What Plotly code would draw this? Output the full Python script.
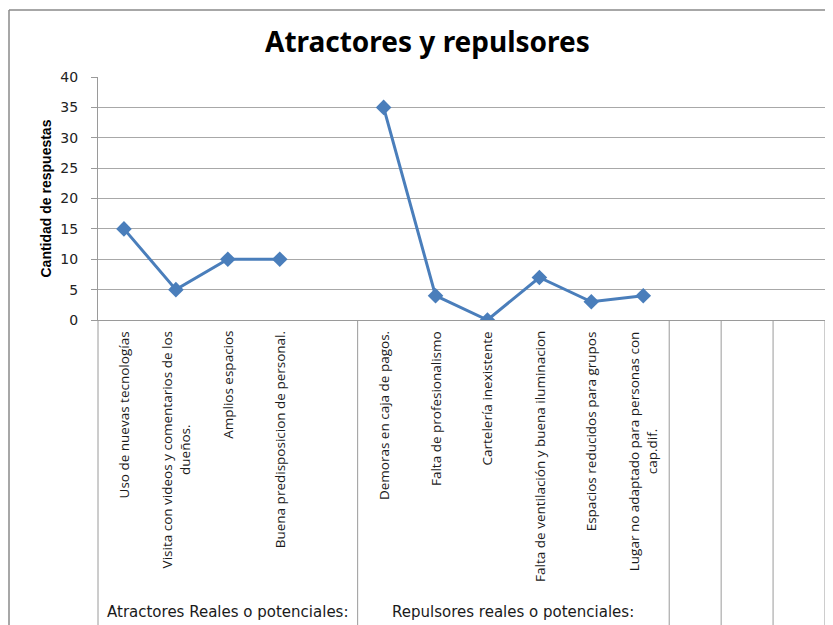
import plotly.graph_objects as go

categories = [
    "Uso de nuevas tecnologías",
    "Visita con videos y comentarios de los<br>dueños.",
    "Amplios espacios",
    "Buena predisposicion de personal.",
    "",
    "Demoras en caja de pagos.",
    "Falta de profesionalismo",
    "Cartelería inexistente",
    "Falta de ventilación y buena iluminacion",
    "Espacios reducidos para grupos",
    "Lugar no adaptado para personas con<br>cap.dif.",
    "",
    "",
    "",
]
values = [15, 5, 10, 10, None, 35, 4, 0, 7, 3, 4, None, None, None]
groups = ["Atractores Reales o potenciales:", "Repulsores reales o potenciales:", "", "", ""]
group_sizes = [5, 6, 1, 1, 1]
y_ticks = [0, 5, 10, 15, 20, 25, 30, 35, 40]

# page has an 8px body margin; work in page pixels and convert
OFF = 8
W, H = 825, 617
L, R, T, B = 98 - OFF, 8, 77 - OFF, H - (320 - OFF)
pw, ph = W - L - R, H - T - B
n = len(categories)

def px_x(px):
    return (px - OFF - L) / pw

def px_y(py):
    return (H - B - (py - OFF)) / ph

x_idx = list(range(n))
fig = go.Figure()
fig.add_trace(go.Scatter(
    x=x_idx, y=values, mode="lines+markers",
    line=dict(color="#4A7EBB", width=3),
    marker=dict(symbol="diamond", size=12, color="#4A7EBB"),
    connectgaps=False, showlegend=False, hoverinfo="skip",
))

annotations = []
for i, c in enumerate(categories):
    if not c:
        continue
    annotations.append(dict(
        x=i, xref="x", y=px_y(329), yref="paper", text=c, showarrow=False,
        textangle=-90, xanchor="center", yanchor="top", align="center",
        font=dict(family="Open Sans, Noto Sans, sans-serif", size=13.5, color="#1a1a1a"),
    ))

shapes = []
start = 0
bounds = [0]
for g, s in zip(groups, group_sizes):
    if g:
        annotations.append(dict(
            x=start + (s - 1) / 2, xref="x", y=px_y(612), yref="paper", text=g,
            showarrow=False, xanchor="center", yanchor="middle",
            font=dict(family="DejaVu Sans, Verdana, sans-serif", size=15, color="#1a1a1a"),
        ))
    start += s
    bounds.append(start)

for b in bounds:
    xp = b / n
    shapes.append(dict(type="line", xref="paper", yref="paper", x0=xp, x1=xp,
                       y0=0, y1=px_y(625), line=dict(color="#9a9a9a", width=1)))

# outer chart frame
shapes.append(dict(type="line", xref="paper", yref="paper", x0=px_x(9), x1=px_x(9),
                   y0=px_y(10), y1=px_y(625), line=dict(color="#8a8a8a", width=1.5)))
shapes.append(dict(type="line", xref="paper", yref="paper", x0=px_x(9), x1=px_x(833),
                   y0=px_y(10), y1=px_y(10), line=dict(color="#8a8a8a", width=1.5)))

annotations.append(dict(
    x=px_x(45), xref="paper", y=0.5, yref="paper", text="<b>Cantidad de respuestas</b>",
    showarrow=False, textangle=-90, xanchor="center", yanchor="middle",
    font=dict(family="Liberation Sans Narrow, Liberation Sans, Arial, sans-serif", size=14, color="#000"),
))
annotations.append(dict(
    x=px_x(427), xref="paper", y=px_y(41), yref="paper", text="<b>Atractores y repulsores</b>",
    showarrow=False, xanchor="center", yanchor="middle",
    font=dict(family="Noto Sans, Open Sans, sans-serif", size=28, color="#000"),
))

fig.update_layout(
    width=W, height=H, margin=dict(l=L, r=R, t=T, b=B, pad=0),
    paper_bgcolor="white", plot_bgcolor="white",
    xaxis=dict(range=[-0.5, n - 0.5], showticklabels=False, ticks="", showgrid=False,
               zeroline=False, showline=True, linecolor="#9a9a9a", linewidth=1, fixedrange=True),
    yaxis=dict(range=[0, 40], tickvals=y_ticks, ticks="outside", ticklen=6, tickcolor="#9a9a9a",
               showgrid=True, gridcolor="#a8a8a8", gridwidth=1, zeroline=False,
               showline=True, linecolor="#9a9a9a", linewidth=1, ticklabelstandoff=10,
               tickfont=dict(family="DejaVu Sans, Verdana, sans-serif", size=14, color="#222"),
               fixedrange=True),
    annotations=annotations, shapes=shapes,
)

fig.write_html("out.html")
